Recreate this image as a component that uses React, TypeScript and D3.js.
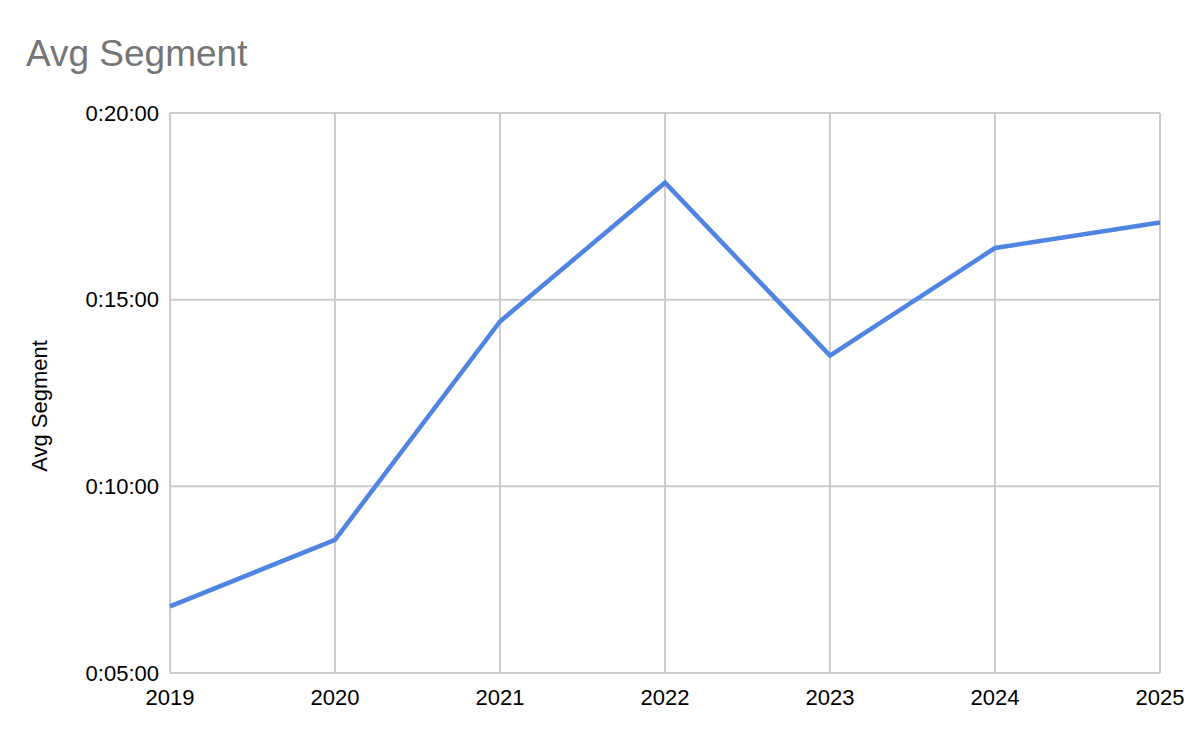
import React from "react";
import * as d3 from "d3";

const years = ["2019", "2020", "2021", "2022", "2023", "2024", "2025"];
// average segment duration in seconds
const avgSeconds = [407, 514, 865, 1088, 810, 983, 1024];
const yTicks = [300, 600, 900, 1200];

const W = 1200;
const H = 739;
const M = { left: 170, right: 40, top: 113, bottom: 66 };

function fmt(s: number) {
  const h = Math.floor(s / 3600);
  const m = Math.floor((s % 3600) / 60);
  const sec = s % 60;
  return `${h}:${String(m).padStart(2, "0")}:${String(sec).padStart(2, "0")}`;
}

export default function App() {
  const x = d3
    .scalePoint<string>()
    .domain(years)
    .range([M.left, W - M.right]);
  const y = d3
    .scaleLinear()
    .domain([300, 1200])
    .range([H - M.bottom, M.top]);
  const line = d3
    .line<number>()
    .x((_, i) => x(years[i]) as number)
    .y((d) => y(d));
  const font = "'Liberation Sans', Arial, sans-serif";
  return (
    <svg
      width={W}
      height={H}
      style={{ position: "absolute", left: 0, top: 0, background: "#fff" }}
      fontFamily={font}
    >
      <rect width={W} height={H} fill="#fff" />
      <text x={26} y={66} fontSize={37} fill="#757575">
        Avg Segment
      </text>
      {yTicks.map((t) => (
        <g key={t}>
          <line
            x1={M.left}
            x2={W - M.right}
            y1={y(t)}
            y2={y(t)}
            stroke="#cccccc"
            strokeWidth={2}
          />
          <text
            x={M.left - 11}
            y={y(t)}
            dy="0.35em"
            textAnchor="end"
            fontSize={22}
            fill="#000"
          >
            {fmt(t)}
          </text>
        </g>
      ))}
      {years.map((yr) => (
        <g key={yr}>
          <line
            x1={x(yr)}
            x2={x(yr)}
            y1={M.top}
            y2={H - M.bottom}
            stroke="#cccccc"
            strokeWidth={2}
          />
          <text
            x={x(yr)}
            y={H - M.bottom + 32}
            textAnchor="middle"
            fontSize={22}
            fill="#000"
          >
            {yr}
          </text>
        </g>
      ))}
      <text
        transform={`translate(47, ${(M.top + H - M.bottom) / 2 + 13}) rotate(-90)`}
        textAnchor="middle"
        fontSize={22}
        fill="#000"
      >
        Avg Segment
      </text>
      <path
        d={line(avgSeconds) || ""}
        fill="none"
        stroke="#4f84e3"
        strokeWidth={4.5}
        strokeLinejoin="miter"
      />
    </svg>
  );
}
